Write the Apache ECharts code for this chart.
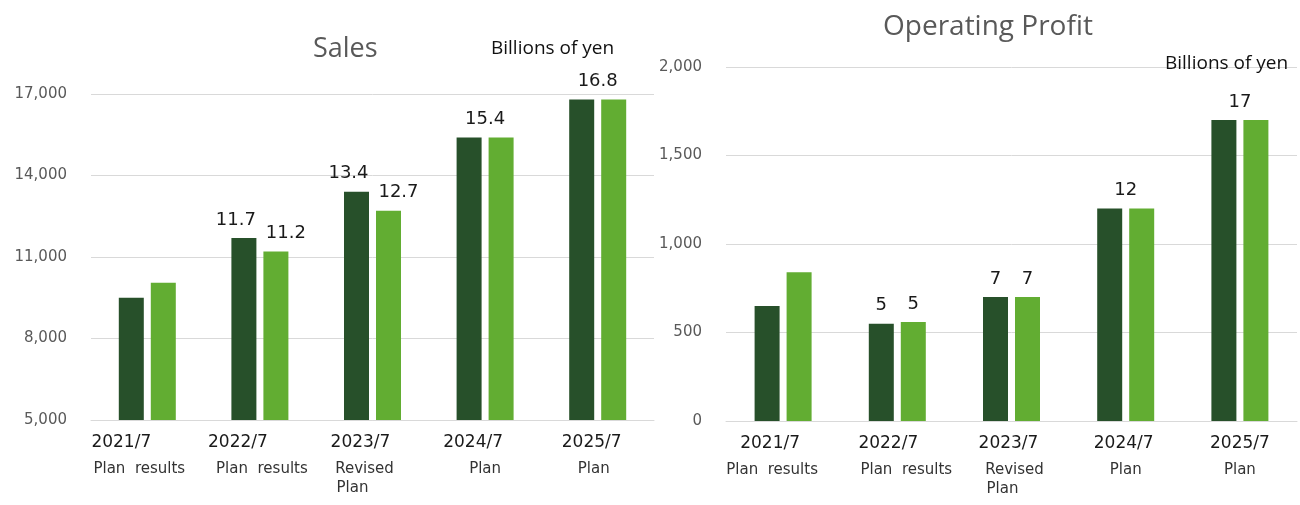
<!DOCTYPE html>
<html><head><meta charset="utf-8">
<script src="https://cdn.jsdelivr.net/npm/echarts@6/dist/echarts.min.js"></script>
<style>html,body{margin:0;padding:0;background:#fff}#c{width:1300px;height:505px}</style>
</head><body><div id="c"></div>
<script>
// ---- data ----
const years = ['2021/7', '2022/7', '2023/7', '2024/7', '2025/7'];
const subLabels = [['Plan  results'], ['Plan  results'], ['Revised', 'Plan'], ['Plan'], ['Plan']];
const salesTicks = [5000, 8000, 11000, 14000, 17000];
const salesPlan = [9500, 11700, 13400, 15400, 16800];
const salesResult = [10050, 11200, 12700, 15400, 16800];
const salesPlanText = ['', '11.7', '13.4', '15.4', '16.8'];
const salesResultText = ['', '11.2', '12.7', '', ''];
const profitTicks = [0, 500, 1000, 1500, 2000];
const profitPlan = [650, 550, 700, 1200, 1700];
const profitResult = [840, 560, 700, 1200, 1700];
const profitPlanText = ['', '5', '7', '12', '17'];
const profitResultText = ['', '5', '7', '', ''];

// ---- styles ----
const DARK = '#27502a', LIGHT = '#62ad32', GRID = '#d9d9d9';
const BW = 25, GAP = 7;
// horizontal nudges of the category texts (px, negative = left), as placed in the original slide
const yearShift = [[-26, -22, -12, -12, -6], [-13, -9, -3, -2, 0]];
const subShift = [[-8, 2, -8, 0, -4], [-11, 9, 3, 0, 0]];

function mkData(vals, texts, isPlan, otherTexts, sideShift) {
  return vals.map((v, i) => {
    const t = texts[i];
    if (!t) return { value: v, label: { show: false } };
    let dx = 0;
    if (isPlan && !otherTexts[i]) dx = (BW + GAP) / 2; // single label centred over the pair
    else dx = isPlan ? -sideShift : sideShift;
    return { value: v, label: { show: true, formatter: t, offset: [dx, 0] } };
  });
}

const labelStyle = { position: 'top', distance: 9, color: '#1a1a1a', fontSize: 18, fontFamily: 'DejaVu Sans' };

function pad(d) { return d < 0 ? [0, -2 * d, 0, 0] : [0, 0, 0, 2 * d]; }

function xAxisCfg(gi) {
  const rich = {};
  years.forEach((y, i) => {
    rich['y' + i] = { fontSize: 17, fontFamily: 'DejaVu Sans', color: '#1a1a1a', lineHeight: 34, padding: pad(yearShift[gi][i]) };
    rich['s' + i] = { fontSize: 15, fontFamily: 'DejaVu Sans', color: '#333', lineHeight: 19, padding: pad(subShift[gi][i]) };
    rich['t' + i] = { fontSize: 15, fontFamily: 'DejaVu Sans', color: '#333', lineHeight: 19, padding: pad(subShift[gi][i] - 12) };
  });
  return {
    type: 'category', gridIndex: gi, data: years,
    axisTick: { show: false },
    axisLine: { lineStyle: { color: GRID } },
    axisLabel: {
      margin: 6, interval: 0,
      formatter: (v, i) => '{y' + i + '|' + v + '}\n' +
        subLabels[i].map((s, k) => '{' + (k > 0 ? 't' : 's') + i + '|' + s + '}').join('\n'),
      rich: rich
    }
  };
}
function yAxisCfg(gi, ticks) {
  return {
    type: 'value', gridIndex: gi, min: ticks[0], max: ticks[ticks.length - 1],
    interval: ticks[1] - ticks[0],
    axisLine: { show: false }, axisTick: { show: false },
    splitLine: { lineStyle: { color: GRID } },
    axisLabel: {
      margin: 24, color: '#595959', fontSize: 15, fontFamily: 'DejaVu Sans',
      formatter: v => v.toLocaleString('en-US')
    }
  };
}

const chart = echarts.init(document.getElementById('c'), null, { renderer: 'canvas' });
chart.setOption({
  animation: false,
  backgroundColor: '#fff',
  title: [
    { text: 'Sales', left: 308, top: 31, textStyle: { fontFamily: 'Open Sans', fontWeight: 'normal', fontSize: 27, color: '#595959' } },
    { text: 'Billions of yen', left: 486, top: 34, textStyle: { fontFamily: 'Open Sans', fontWeight: 'normal', fontSize: 19, color: '#111' } },
    { text: 'Operating Profit', left: 878, top: 8, textStyle: { fontFamily: 'Open Sans', fontWeight: 'normal', fontSize: 28, color: '#595959' } },
    { text: 'Billions of yen', left: 1160, top: 49, textStyle: { fontFamily: 'Open Sans', fontWeight: 'normal', fontSize: 19, color: '#111' } }
  ],
  grid: [
    { left: 91, right: 646, top: 94, bottom: 85 },
    { left: 726, right: 3, top: 67, bottom: 84 }
  ],
  xAxis: [xAxisCfg(0), xAxisCfg(1)],
  yAxis: [yAxisCfg(0, salesTicks), yAxisCfg(1, profitTicks)],
  series: [
    { type: 'bar', xAxisIndex: 0, yAxisIndex: 0, barWidth: BW, barGap: '28%', itemStyle: { color: DARK }, label: labelStyle,
      data: mkData(salesPlan, salesPlanText, true, salesResultText, 8) },
    { type: 'bar', xAxisIndex: 0, yAxisIndex: 0, barWidth: BW, barGap: '28%', itemStyle: { color: LIGHT }, label: labelStyle,
      data: mkData(salesResult, salesResultText, false, salesPlanText, 10) },
    { type: 'bar', xAxisIndex: 1, yAxisIndex: 1, barWidth: BW, barGap: '28%', itemStyle: { color: DARK }, label: labelStyle,
      data: mkData(profitPlan, profitPlanText, true, profitResultText, 0) },
    { type: 'bar', xAxisIndex: 1, yAxisIndex: 1, barWidth: BW, barGap: '28%', itemStyle: { color: LIGHT }, label: labelStyle,
      data: mkData(profitResult, profitResultText, false, profitPlanText, 0) }
  ]
});
</script></body></html>
